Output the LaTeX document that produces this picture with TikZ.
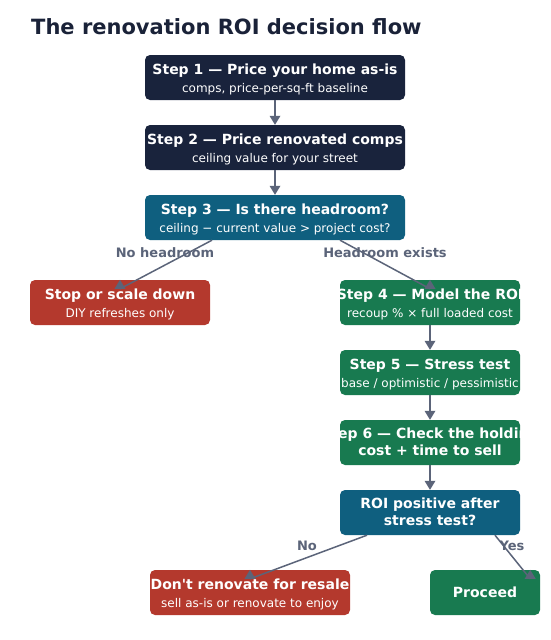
\documentclass[tikz,border=0pt]{standalone}
\usepackage{fontspec}
\setmainfont{DejaVu Sans}
\newfontfamily\plaindv{DejaVu Sans}
\usetikzlibrary{arrows.meta}
\definecolor{navy}{HTML}{19233C}
\definecolor{tealc}{HTML}{0F5F7F}
\definecolor{greenc}{HTML}{187A50}
\definecolor{redc}{HTML}{B4392D}
\definecolor{greyc}{HTML}{5B6479}
\definecolor{titlec}{HTML}{1A2238}
\tikzset{
  box/.style={rounded corners=5pt, minimum height=45pt, inner sep=0pt, draw=none},
  hd/.style={font=\fontsize{14}{16}\selectfont\bfseries, text=white, anchor=base, inner sep=0pt},
  sb/.style={font=\fontsize{12}{14}\selectfont, text=white, anchor=base, inner sep=0pt},
  lbl/.style={font=\fontsize{13}{15}\selectfont\bfseries, text=greyc, inner sep=0pt},
  arr/.style={draw=greyc, line width=1.5pt, -{Triangle[width=11pt,length=9pt,line width=0pt]}},
}
\begin{document}
\begin{tikzpicture}[x=1pt,y=-1pt]
\useasboundingbox (0,0) rectangle (550,640);
\node[anchor=base west, inner sep=0pt, font=\fontsize{21}{25}\selectfont\bfseries, text=titlec] (title) at (31,34) {The renovation ROI decision flow};

% boxes
\node[box, fill=navy, minimum width=260pt] (b1) at (275,77.5) {};
\node[box, fill=navy, minimum width=260pt] (b2) at (275,147.5) {};
\node[box, fill=tealc, minimum width=260pt] (b3) at (275,217.5) {};
\node[box, fill=redc, minimum width=180pt] (stop) at (120,302.5) {};
\node[box, fill=greenc, minimum width=180pt] (b4) at (430,302.5) {};
\node[box, fill=greenc, minimum width=180pt] (b5) at (430,372.5) {};
\node[box, fill=greenc, minimum width=180pt] (b6) at (430,442.5) {};
\node[box, fill=tealc, minimum width=180pt] (roi) at (430,512.5) {};
\node[box, fill=redc, minimum width=200pt] (dont) at (250,592.5) {};
\node[box, fill=greenc, minimum width=110pt] (pro) at (485,592.5) {};

% texts
\node[hd] (b1t) at ([yshift=-20pt]b1.north) {Step 1 — Price your home as-is};
\node[sb] (b1s) at ([yshift=-38pt]b1.north) {comps, price-per-sq-ft baseline};
\node[hd] (b2t) at ([yshift=-20pt]b2.north) {Step 2 — Price renovated comps};
\node[sb] (b2s) at ([yshift=-38pt]b2.north) {ceiling value for your street};
\node[hd] (b3t) at ([yshift=-20pt]b3.north) {Step 3 — Is there headroom?};
\node[sb] (b3s) at ([yshift=-38pt]b3.north) {ceiling − current value > project cost?};
\node[hd] (stopt) at ([yshift=-20pt]stop.north) {Stop or scale down};
\node[sb] (stops) at ([yshift=-38pt]stop.north) {DIY refreshes only};
\node[hd] (b4t) at ([yshift=-20pt]b4.north) {Step 4 — Model the ROI};
\node[sb] (b4s) at ([yshift=-38pt]b4.north) {recoup \% × full loaded cost};
\node[hd] (b5t) at ([yshift=-20pt]b5.north) {Step 5 — Stress test};
\node[sb] (b5s) at ([yshift=-38pt]b5.north) {base / optimistic / pessimistic};
\node[hd] (b6t) at ([yshift=-19pt]b6.north) {Step 6 — Check the holding};
\node[hd] (b6s) at ([yshift=-36pt]b6.north) {cost + time to sell};
\node[hd] (roit) at ([yshift=-19pt]roi.north) {ROI positive after};
\node[hd] (rois) at ([yshift=-36pt]roi.north) {stress test?};
\node[hd] (dontt) at ([yshift=-20pt]dont.north) {\plaindv\bfseries Don't renovate for resale};
\node[sb] (donts) at ([yshift=-38pt]dont.north) {sell as-is or renovate to enjoy};
\node[hd] (prot) at ([yshift=-27.5pt]pro.north) {Proceed};

% connectors
\draw[arr] (b1.south) -- (b2.north);
\draw[arr] (b2.south) -- (b3.north);
\draw[arr] ([xshift=-63pt]b3.south) -- ([yshift=-9pt]stop.north) -- (stop.north);
\draw[arr] ([xshift=65pt]b3.south) -- ([yshift=-9pt]b4.north) -- (b4.north);
\draw[arr] (b4.south) -- (b5.north);
\draw[arr] (b5.south) -- (b6.north);
\draw[arr] (b6.south) -- (roi.north);
\draw[arr] ([xshift=-63pt]roi.south) -- ([yshift=-9pt]dont.north) -- (dont.north);
\draw[arr] ([xshift=65pt]roi.south) -- ([xshift=-10pt,yshift=-9pt]pro.north east) -- ([xshift=-10pt]pro.north east);

% labels
\node[lbl] (l1) at (165,253) {No headroom};
\node[lbl] (l2) at (385,253) {Headroom exists};
\node[lbl] (l3) at (307,546) {No};
\node[lbl] (l4) at (512,546) {Yes};
\end{tikzpicture}
\end{document}
